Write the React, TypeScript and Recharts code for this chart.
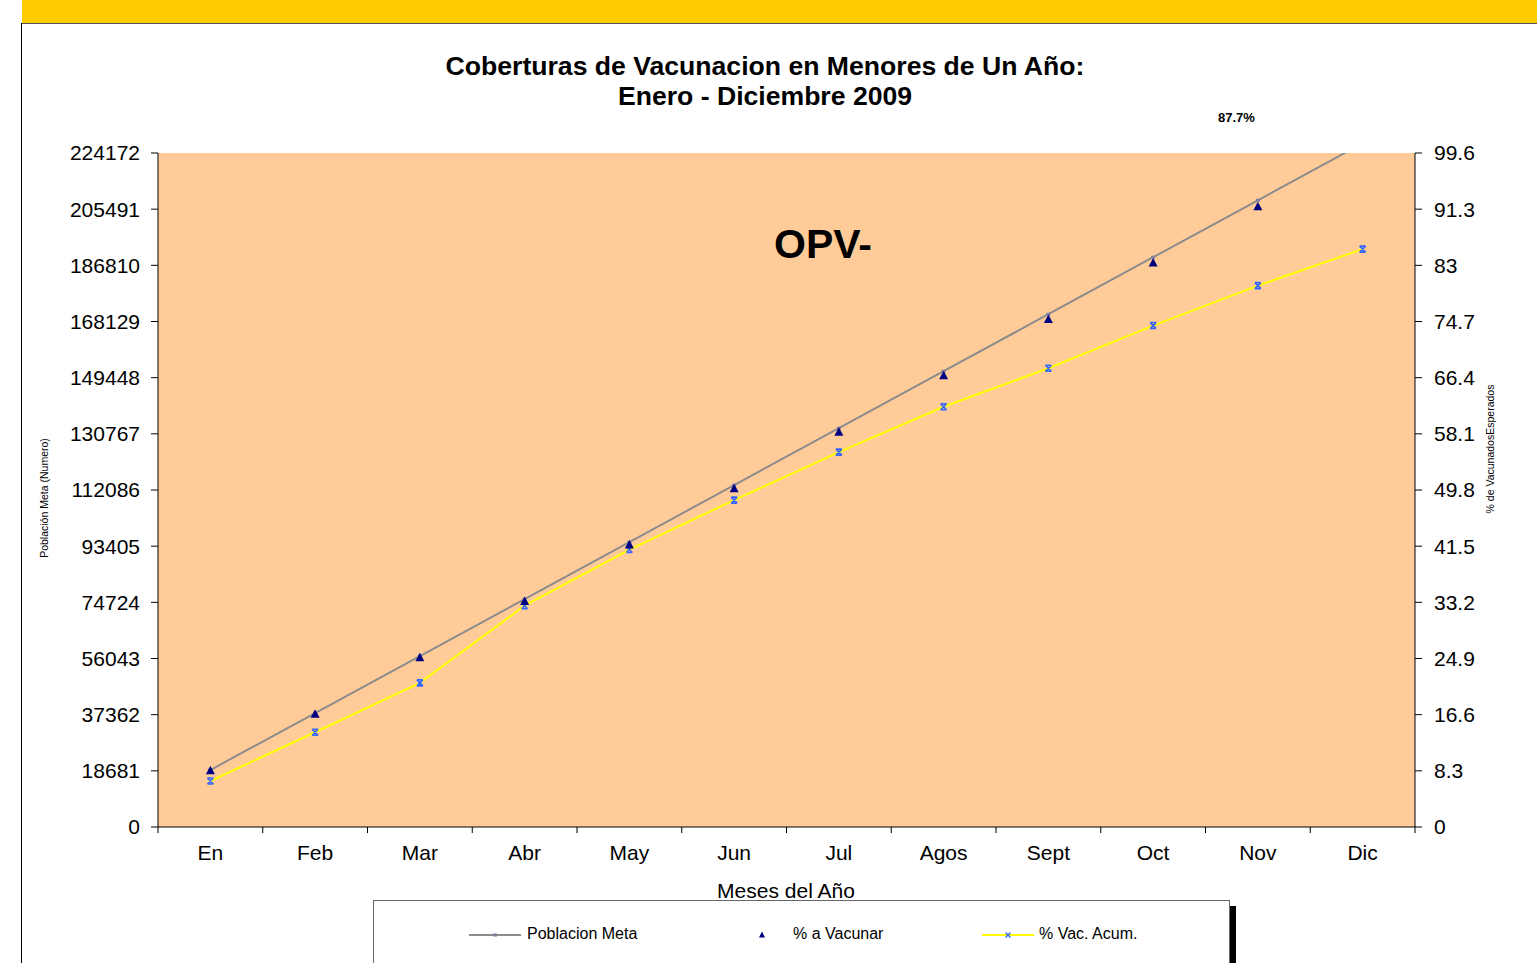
import React from 'react';
import { ComposedChart, Line, XAxis, YAxis, CartesianGrid } from 'recharts';

const months = ['En', 'Feb', 'Mar', 'Abr', 'May', 'Jun', 'Jul', 'Agos', 'Sept', 'Oct', 'Nov', 'Dic'];
const poblacionMeta = [18950, 37900, 56850, 75800, 94750, 113700, 132650, 151600, 170550, 189500, 208450, 227400];
const pctVacunar = [8.33, 16.67, 25, 33.33, 41.67, 50, 58.33, 66.67, 75, 83.33, 91.67, 100];
const pctVacAcum = [6.8, 14.0, 21.3, 32.7, 41.0, 48.3, 55.4, 62.1, 67.8, 74.1, 80.0, 85.4];
const leftTicks = [0, 18681, 37362, 56043, 74724, 93405, 112086, 130767, 149448, 168129, 186810, 205491, 224172];
const rightTicks = [0, 8.3, 16.6, 24.9, 33.2, 41.5, 49.8, 58.1, 66.4, 74.7, 83, 91.3, 99.6];
const RIGHT_MAX = rightTicks[rightTicks.length - 1];

const data = months.map((m, i) => ({
  month: m,
  meta: poblacionMeta[i],
  vacunar: pctVacunar[i],
  acum: pctVacAcum[i],
}));

const W = 1537;
const H = 963;
const MARGIN = { top: 153, right: 62, bottom: 106, left: 98 };
const YW = 60;
const XH = 30;
const PLOT_W = W - MARGIN.left - MARGIN.right - 2 * YW;
const BW = PLOT_W / months.length;
const FONT = '"Liberation Sans", Arial, sans-serif';

const XTick = (props: any) => {
  const { x, y, payload, index } = props;
  const bx = x - BW / 2;
  return (
    <g>
      <line x1={bx} y1={y} x2={bx} y2={y + 6} stroke="#000" strokeWidth={1} />
      {index === months.length - 1 && (
        <line x1={x + BW / 2} y1={y} x2={x + BW / 2} y2={y + 6} stroke="#000" strokeWidth={1} />
      )}
      <text x={x} y={y + 33} textAnchor="middle" fill="#000" fontSize={21} fontFamily={FONT}>
        {payload.value}
      </text>
    </g>
  );
};

const MetaDot = (props: any) => {
  const { cx, cy, index } = props;
  if (cx == null || cy == null) return <g key={`m${index}`} />;
  return <rect key={`m${index}`} x={cx - 2} y={cy - 1.5} width={4} height={3} fill="#7f7f9f" />;
};

const TriDot = (props: any) => {
  const { cx, cy, index, value } = props;
  const v = Array.isArray(value) ? value[1] : value;
  if (cx == null || cy == null || v > RIGHT_MAX) return <g key={`t${index}`} />;
  return (
    <path
      key={`t${index}`}
      d={`M${cx},${cy - 5} L${cx + 4.5},${cy + 3.5} L${cx - 4.5},${cy + 3.5} Z`}
      fill="#000080"
    />
  );
};

const XDot = (props: any) => {
  const { cx, cy, index } = props;
  if (cx == null || cy == null) return <g key={`x${index}`} />;
  return (
    <path
      key={`x${index}`}
      d={`M${cx - 3},${cy - 3} L${cx + 3},${cy + 3} M${cx + 3},${cy - 3} L${cx - 3},${cy + 3} M${cx - 3},${cy - 3} L${cx + 3},${cy - 3} M${cx - 3},${cy + 3} L${cx + 3},${cy + 3}`}
      stroke="#3366ff"
      strokeWidth={1.6}
      fill="none"
    />
  );
};

export default function App() {
  return (
    <div style={{ position: 'absolute', left: 0, top: 0, width: W, height: H, overflow: 'hidden', background: '#fff', fontFamily: FONT }}>
      <div style={{ position: 'absolute', left: 22, top: 0, width: W - 22, height: 23, background: '#FFCC00', borderBottom: '1px solid #555' }} />
      <div style={{ position: 'absolute', left: 21, top: 23, width: 1, height: H - 23, background: '#000' }} />

      <div style={{ position: 'absolute', left: 0, width: 1530, top: 51, textAlign: 'center', fontWeight: 'bold', fontSize: 26.6, lineHeight: '30px', color: '#000' }}>
        Coberturas de Vacunacion en Menores de Un Año:
        <br />
        Enero - Diciembre 2009
      </div>
      <div style={{ position: 'absolute', left: 1218, top: 110, fontWeight: 'bold', fontSize: 13, color: '#000' }}>87.7%</div>

      <div style={{ position: 'absolute', left: 0, top: 0 }}>
        <ComposedChart width={W} height={H} data={data} margin={MARGIN}>
          <CartesianGrid yAxisId="left" fill="#FFCC99" stroke="none" horizontal={false} vertical={false} />
          <XAxis
            dataKey="month"
            height={XH}
            padding={{ left: BW / 2, right: BW / 2 }}
            axisLine={{ stroke: '#000' }}
            tickLine={false}
            tickSize={0}
            tickMargin={0}
            tick={<XTick />}
            interval={0}
          />
          <YAxis
            yAxisId="left"
            orientation="left"
            width={YW}
            domain={[0, 224172]}
            ticks={leftTicks}
            allowDataOverflow
            interval={0}
            axisLine={{ stroke: '#000' }}
            tickLine={{ stroke: '#000' }}
            tickSize={7}
            tickMargin={11}
            tick={{ fill: '#000', fontSize: 21, fontFamily: FONT }}
          />
          <YAxis
            yAxisId="right"
            orientation="right"
            width={YW}
            domain={[0, RIGHT_MAX]}
            ticks={rightTicks}
            allowDataOverflow
            interval={0}
            axisLine={{ stroke: '#000' }}
            tickLine={{ stroke: '#000' }}
            tickSize={7}
            tickMargin={12}
            tick={{ fill: '#000', fontSize: 21, fontFamily: FONT }}
          />
          <Line yAxisId="left" dataKey="meta" stroke="#8c8c8c" strokeWidth={2} dot={MetaDot} activeDot={false} isAnimationActive={false} />
          <Line yAxisId="right" dataKey="acum" stroke="#ffff00" strokeWidth={2} dot={XDot} activeDot={false} isAnimationActive={false} />
          <Line yAxisId="right" dataKey="vacunar" stroke="none" dot={TriDot} activeDot={false} isAnimationActive={false} />
        </ComposedChart>
      </div>

      <div style={{ position: 'absolute', left: 823, top: 244, transform: 'translate(-50%, -50%)', fontWeight: 'bold', fontSize: 41, color: '#000', whiteSpace: 'nowrap' }}>OPV-</div>

      <div style={{ position: 'absolute', left: 44, top: 498, transform: 'translate(-50%, -50%) rotate(-90deg)', fontSize: 10.5, color: '#000', whiteSpace: 'nowrap' }}>
        Población Meta (Numero)
      </div>
      <div style={{ position: 'absolute', left: 1490, top: 449, transform: 'translate(-50%, -50%) rotate(-90deg)', fontSize: 10.5, color: '#000', whiteSpace: 'nowrap' }}>
        % de VacunadosEsperados
      </div>

      <div style={{ position: 'absolute', left: 786, top: 891, transform: 'translate(-50%, -50%)', fontSize: 21, color: '#000', whiteSpace: 'nowrap' }}>
        Meses del Año
      </div>

      <div style={{ position: 'absolute', left: 373, top: 900, width: 855, height: 100, background: '#fff', border: '1px solid #666', boxShadow: '6px 6px 0 #000' }}>
        <div style={{ position: 'absolute', left: 95, top: 22, width: 54, height: 24 }}>
          <svg width={54} height={24}>
            <line x1={0} y1={12} x2={52} y2={12} stroke="#8c8c8c" strokeWidth={2} />
            <rect x={24} y={10.5} width={4} height={3} fill="#7f7f9f" />
          </svg>
        </div>
        <div style={{ position: 'absolute', left: 153, top: 24, fontSize: 16, color: '#000', whiteSpace: 'nowrap' }}>Poblacion Meta</div>
        <div style={{ position: 'absolute', left: 383, top: 22, width: 10, height: 24 }}>
          <svg width={10} height={24}>
            <path d="M5,8.5 L8,14.5 L2,14.5 Z" fill="#000080" />
          </svg>
        </div>
        <div style={{ position: 'absolute', left: 419, top: 24, fontSize: 16, color: '#000', whiteSpace: 'nowrap' }}>% a Vacunar</div>
        <div style={{ position: 'absolute', left: 608, top: 22, width: 54, height: 24 }}>
          <svg width={54} height={24}>
            <line x1={0} y1={12} x2={52} y2={12} stroke="#ffff00" strokeWidth={2} />
            <path d="M23.5,9.5 L28.5,14.5 M28.5,9.5 L23.5,14.5" stroke="#3366ff" strokeWidth={1.4} />
          </svg>
        </div>
        <div style={{ position: 'absolute', left: 665, top: 24, fontSize: 16, color: '#000', whiteSpace: 'nowrap' }}>% Vac. Acum.</div>
      </div>
    </div>
  );
}
